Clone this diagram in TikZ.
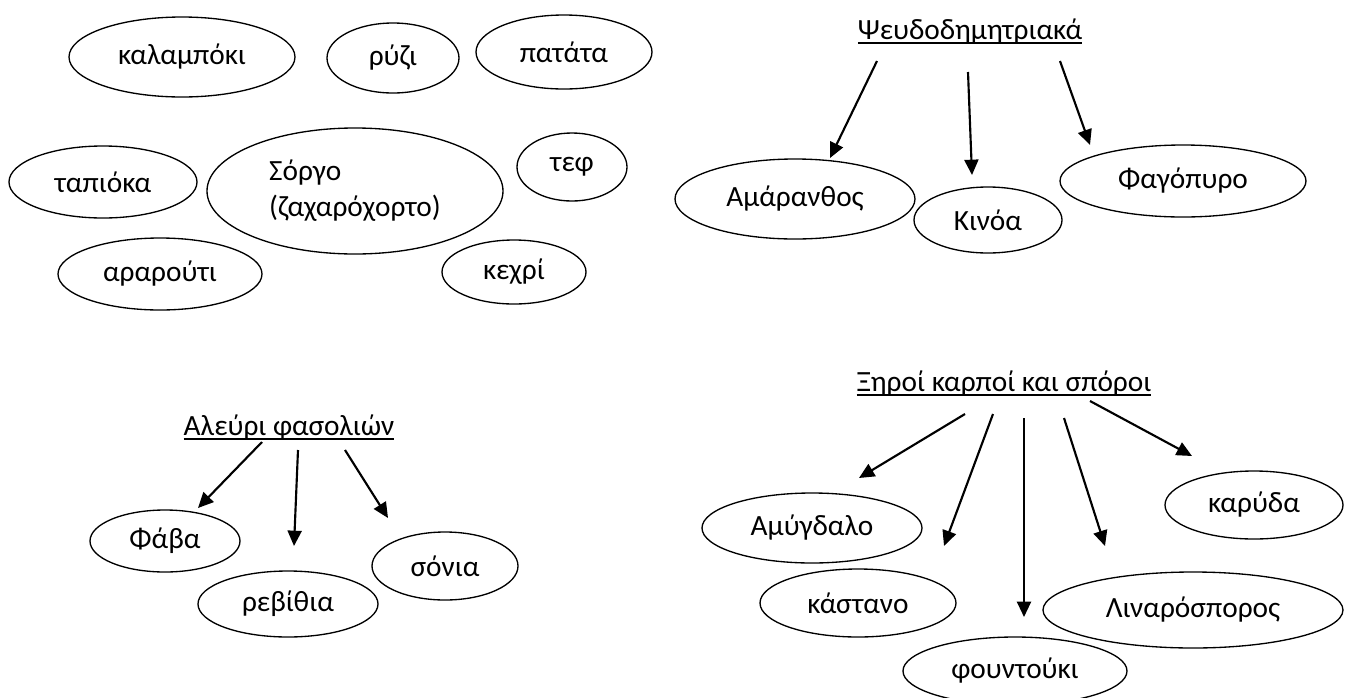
\documentclass[tikz,border=0pt]{standalone}
\usepackage{fontspec}
\setmainfont{Carlito}
\usetikzlibrary{shapes.geometric,arrows.meta}
\newcommand{\ulw}[1]{\setbox0\hbox{#1}\rlap{\rule[-3.6pt]{\wd0}{1.3pt}}\box0}
\tikzset{
  bub/.style={draw, ellipse, line width=1pt, inner sep=0pt, outer sep=0pt, font=\fontsize{22}{27}\selectfont},
  ttl/.style={inner sep=0pt, anchor=base, font=\fontsize{22}{27}\selectfont},
  arr/.style={line width=1.6pt, -{Triangle[length=11.5pt,width=10.5pt]}}
}
\begin{document}
\begin{tikzpicture}[x=0.75pt,y=-0.75pt]
\useasboundingbox (0,0) rectangle (1347,697);
% top-left group
\node[bub, minimum width=169.5pt, minimum height=60pt] (kal) at (182,57) {καλαμπόκι};
\node[bub, minimum width=99pt, minimum height=52.5pt] (ryz) at (393,58) {ρύζι};
\node[bub, minimum width=132pt, minimum height=55.5pt] (pat) at (564,52) {πατάτα};
\node[bub, minimum width=141pt, minimum height=54pt] (tap) at (103,182) {ταπιόκα};
\node[bub, minimum width=222pt, minimum height=94.5pt, align=left] (sor) at (355,191) {Σόργο\\(ζαχαρόχορτο)};
\node[bub, minimum width=82.5pt, minimum height=51pt] (tef) at (572,167) {τεφ};
\node[bub, minimum width=153pt, minimum height=54pt] (ara) at (160,274) {αραρούτι};
\node[bub, minimum width=108pt, minimum height=48pt] (kex) at (514,272) {κεχρί};
% top-right group
\node[ttl] (pseu) at (970,39) {\ulw{Ψευδοδημητριακά}};
\node[bub, minimum width=180pt, minimum height=60pt] (ama) at (795,199) {Αμάρανθος};
\node[bub, minimum width=111pt, minimum height=49.5pt] (kin) at (988,220) {Κινόα};
\node[bub, minimum width=184.5pt, minimum height=54pt] (fag) at (1183,181) {Φαγόπυρο};
\coordinate (p1s) at (877,61);  \coordinate (p1e) at (830,158);
\coordinate (p2s) at (968,72);  \coordinate (p2e) at (972,175);
\coordinate (p3s) at (1060,61); \coordinate (p3e) at (1090,145);
\draw[arr] (p1s) -- (p1e);
\draw[arr] (p2s) -- (p2e);
\draw[arr] (p3s) -- (p3e);
% bottom-left group
\node[ttl] (ale) at (289,435) {\ulw{Αλεύρι φασολιών}};
\node[bub, minimum width=112.5pt, minimum height=46.5pt] (fav) at (165,541) {Φάβα};
\node[bub, minimum width=135pt, minimum height=49.5pt] (reb) at (288,604) {ρεβίθια};
\node[bub, minimum width=109.5pt, minimum height=51pt] (son) at (445,566) {σόνια};
\coordinate (a1s) at (262,442); \coordinate (a1e) at (198,508);
\coordinate (a2s) at (298,450); \coordinate (a2e) at (294,546);
\coordinate (a3s) at (345,450); \coordinate (a3e) at (388,518);
\draw[arr] (a1s) -- (a1e);
\draw[arr] (a2s) -- (a2e);
\draw[arr] (a3s) -- (a3e);
% bottom-right group
\node[ttl] (xer) at (1004,391) {\ulw{Ξηροί καρποί και σπόροι}};
\node[bub, minimum width=165pt, minimum height=52.5pt] (amy) at (812,528) {Αμύγδαλο};
\node[bub, minimum width=147pt, minimum height=51pt] (kas) at (858,603) {κάστανο};
\node[bub, minimum width=168pt, minimum height=51pt] (fou) at (1015,671) {φουντούκι};
\node[bub, minimum width=225pt, minimum height=57pt] (lin) at (1193,610) {Λιναρόσπορος};
\node[bub, minimum width=133.5pt, minimum height=51pt] (kar) at (1254,505) {καρύδα};
\coordinate (x1s) at (965,414);  \coordinate (x1e) at (859,478);
\coordinate (x2s) at (993,414);  \coordinate (x2e) at (944,546);
\coordinate (x3s) at (1024,418); \coordinate (x3e) at (1024,617);
\coordinate (x4s) at (1064,418); \coordinate (x4e) at (1105,546);
\coordinate (x5s) at (1090,401); \coordinate (x5e) at (1192,456);
\draw[arr] (x1s) -- (x1e);
\draw[arr] (x2s) -- (x2e);
\draw[arr] (x3s) -- (x3e);
\draw[arr] (x4s) -- (x4e);
\draw[arr] (x5s) -- (x5e);
\end{tikzpicture}
\end{document}
